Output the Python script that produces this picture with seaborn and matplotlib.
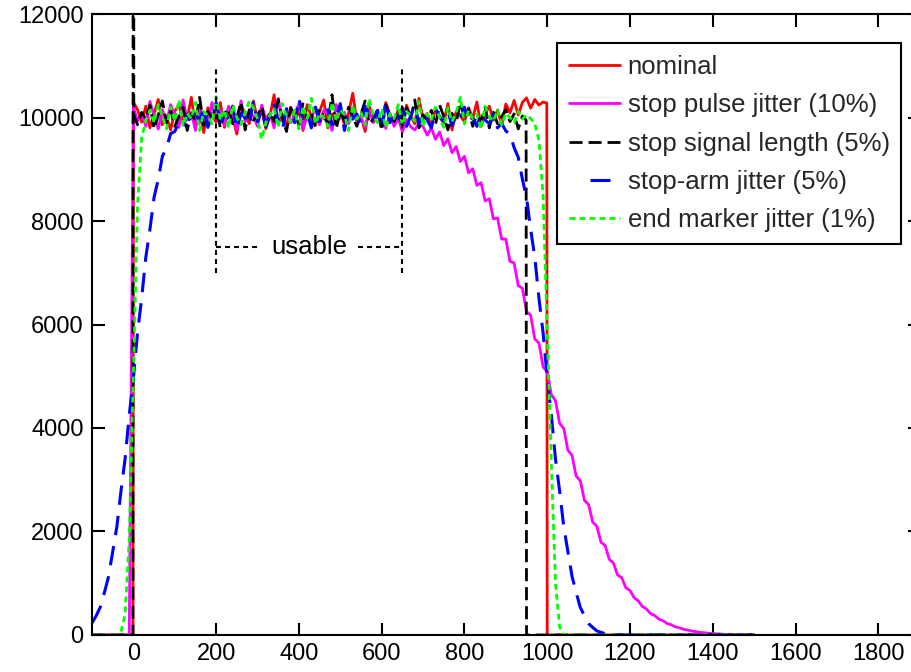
import numpy as np
import pandas as pd
import matplotlib
matplotlib.use("Agg")
import matplotlib.pyplot as plt
from matplotlib.lines import Line2D
import seaborn as sns

# Time bins (ns), 10 ns wide, shared by all runs
bins = np.arange(-100, 1501, 10)

# Nominal run: extra samples at t = -1 and t = 999 ns mark the hard edges
nominal_bins = np.insert(bins, [10, 110], [-1, 999])
nominal = [
    0, 0, 0, 0, 0, 0, 0, 0, 0, 0,
    0,
    10300, 10150, 9910, 10220, 9800, 10070, 10350, 9860, 10020, 9760,
    10120, 10250, 9900, 9980, 10390, 9830, 10100, 9710, 10190, 10030,
    9910, 10290, 9810, 10140, 10000, 9680, 10240, 10080, 9880, 10320,
    9950, 10170, 9780, 10030, 10440, 9900, 10050, 9830, 10200, 9930,
    10140, 9750, 10250, 10020, 9860, 10120, 10340, 9800, 10070, 9980,
    10190, 9850, 10080, 10470, 9930, 10030, 9730, 10220, 9970, 10100,
    9830, 10290, 10050, 9920, 10150, 9780, 10240, 10020, 9880, 10370,
    9970, 10080, 9810, 10170, 10000, 9900, 10270, 9760, 10120, 10030,
    9920, 10190, 9980, 10300, 9830, 10070, 10220, 9950, 10140, 9860,
    10260, 10090, 10330, 10050, 10290, 10380, 10180, 10350, 10240, 10300,
    10280,
    0, 0, 0, 0, 0, 0, 0, 0, 0, 0,
    0, 0, 0, 0, 0, 0, 0, 0, 0, 0,
    0, 0, 0, 0, 0, 0, 0, 0, 0, 0,
    0, 0, 0, 0, 0, 0, 0, 0, 0, 0,
    0, 0, 0, 0, 0, 0, 0, 0, 0, 0,
    0,
]

stop_pulse_jitter = [
    0, 0, 0, 0, 0, 0, 0, 0, 0, 0,
    10200, 9930, 10080, 9830, 10310, 10020, 9780, 10150, 9900, 10250,
    10050, 9810, 10340, 9950, 10100, 9750, 10190, 10000, 9880, 10290,
    9970, 10140, 9850, 10220, 10070, 9760, 10320, 9920, 10120, 10020,
    9830, 10240, 9980, 10080, 9800, 10370, 9930, 10170, 9900, 10050,
    10270, 9780, 10030, 9970, 10200, 9860, 10140, 10070, 9750, 10250,
    9980, 10100, 9880, 10190, 9930, 10000, 9810, 10120, 9900, 10030,
    9950, 9790, 10080, 9830, 9990, 9720, 9960, 9820, 9760, 9890,
    9820, 9660, 9800, 9580, 9720, 9460, 9590, 9320, 9440, 9150,
    9250, 8930, 9010, 8690, 8740, 8390, 8430, 8040, 8060, 7650,
    7650, 7220, 7190, 6750, 6700, 6250, 6180, 5720, 5640, 5180,
    5090, 4640, 4530, 4090, 3990, 3570, 3470, 3070, 2980, 2600,
    2520, 2180, 2100, 1790, 1730, 1460, 1390, 1160, 1110, 910,
    860, 720, 660, 550, 500, 410, 375, 305, 275, 220,
    196, 155, 138, 108, 95, 73, 64, 49, 43, 32,
    27, 20, 17, 12, 10, 7, 6, 4, 3, 2,
    1,
]

# Stop-signal run: extra samples at t = -1, 1 and 949 ns for the spike and the cut
signal_bins = np.insert(bins, [10, 11, 105], [-1, 1, 949])
stop_signal_length = [
    0, 0, 0, 0, 0, 0, 0, 0, 0, 0,
    0, 60000, 10050,
    9860, 10100, 9970, 10240, 9780, 10050, 10320, 9900, 10140, 9830,
    10020, 10200, 9750, 10080, 9930, 10390, 9850, 10120, 9980, 10250,
    9800, 10070, 10170, 9880, 10000, 10300, 9760, 10150, 9950, 10030,
    10220, 9830, 10100, 9920, 10350, 9980, 9730, 10190, 10050, 9860,
    10290, 9970, 10080, 9810, 10170, 10000, 9900, 10440, 9780, 10120,
    9930, 10200, 10020, 9830, 10070, 10320, 9880, 9970, 10150, 9750,
    10250, 10030, 9920, 10100, 9850, 10190, 9980, 10340, 9800, 10050,
    9950, 10140, 9860, 10240, 10020, 9760, 10080, 9900, 10290, 9980,
    10170, 9830, 10050, 9930, 10200, 9800, 10100, 9880, 10020, 10150,
    9920, 10070, 9780, 10030,
    9950,
    0, 0, 0, 0, 0, 0, 0, 0, 0, 0,
    0, 0, 0, 0, 0, 0, 0, 0, 0, 0,
    0, 0, 0, 0, 0, 0, 0, 0, 0, 0,
    0, 0, 0, 0, 0, 0, 0, 0, 0, 0,
    0, 0, 0, 0, 0, 0, 0, 0, 0, 0,
    0, 0, 0, 0, 0, 0,
]

stop_arm_jitter = [
    230, 370, 540, 820, 1130, 1610, 2090, 2780, 3410, 4250,
    4960, 5840, 6510, 7300, 7840, 8460, 8800, 9250, 9410, 9690,
    9730, 9910, 9820, 10060, 9900,
    10070, 9930, 10190, 9810, 10030, 10290, 9880, 10100, 9970, 10220,
    9780, 10080, 10000, 9850, 10320, 9920, 10140, 9830, 10050, 10240,
    9950, 9760, 10170, 10020, 9900, 10370, 9980, 10100, 9800, 10200,
    9920, 10050, 10150, 9860, 10000, 10270, 9750, 10120, 9970, 10070,
    9850, 10220, 10020, 9930, 10140, 9810, 10310, 9900, 10080, 9980,
    10190, 9830, 10030, 10250, 9880, 10100, 9950, 9800, 10170, 10020,
    9920, 10120, 9850, 10050, 9970, 10200, 9900, 10000, 9830, 10070,
    9950, 9880, 10060, 9800, 9890, 9740, 9680, 9420, 9230, 8810,
    8450, 7840, 7300, 6510, 5840, 4960, 4250, 3400, 2780, 2090,
    1610, 1130, 820, 530, 370, 220, 145, 78, 50, 24,
    14, 6, 3, 1,
    0, 0, 0, 0, 0, 0, 0, 0, 0, 0,
    0, 0, 0, 0, 0, 0, 0, 0, 0, 0,
    0, 0, 0, 0, 0, 0, 0, 0, 0, 0,
    0, 0,
]

end_marker_jitter = [
    0, 0, 0, 0, 0, 0, 0, 60, 400, 1850,
    5050, 8300, 9600, 9950,
    10140, 9900, 10250, 10020, 9780, 10200, 9930, 10340, 9830, 10080,
    9980, 10290, 9750, 10120, 10030, 9880, 10400, 9950, 10150, 9800,
    10240, 10000, 9860, 10100, 10320, 10190, 9970, 9580, 9900, 10050,
    10170, 9810, 10270, 10020, 9920, 10140, 9780, 10220, 9980, 10370,
    9880, 10080, 10000, 9830, 10290, 9930, 10150, 10050, 9750, 10240,
    9970, 10100, 9860, 10360, 10020, 9900, 10170, 9800, 10080, 9980,
    10250, 9850, 10120, 10030, 9930, 10310, 9830, 10070, 9950, 10200,
    10000, 9810, 10190, 9920, 10100, 10390, 9880, 10140, 9980, 10070,
    9780, 10220, 10020, 9930, 10150, 9860, 10080, 10000, 9900, 10120,
    9970, 10050,
    9980, 9880, 9560, 8500, 5900, 3300, 1000, 150, 10,
    0, 0, 0, 0, 0, 0, 0, 0, 0, 0,
    0, 0, 0, 0, 0, 0, 0, 0, 0, 0,
    0, 0, 0, 0, 0, 0, 0, 0, 0, 0,
    0, 0, 0, 0, 0, 0, 0, 0, 0, 0,
    0, 0, 0, 0, 0, 0,
]

labels = [
    "nominal",
    "stop pulse jitter (10%)",
    "stop signal length (5%)",
    "stop-arm jitter (5%)",
    "end marker jitter (1%)",
]

# Usable window annotation
usable_start, usable_end = 200, 650
usable_low, usable_high = 7000, 11000
usable_level = 7500
usable_gap = (307, 543)

sns.set_theme(style="ticks")
plt.rcParams["font.family"] = ["Liberation Sans", "DejaVu Sans"]
plt.rcParams["lines.scale_dashes"] = False

fig = plt.figure(figsize=(9.11, 6.72), dpi=100)
ax = fig.add_axes([0.101, 0.0551, 0.9085, 0.924])

styles = [
    dict(color="#ff0000", lw=2.0, ls="-"),
    dict(color="#ff00ff", lw=2.0, ls="-"),
    dict(color="#000000", lw=2.0, ls=(0, (9.4, 4.3))),
    dict(color="#0000ff", lw=2.2, ls=(0, (14.0, 8.0))),
    dict(color="#00ff00", lw=2.0, ls=(0, (4.3, 2.9))),
]
runs = [
    (nominal_bins, nominal),
    (bins, stop_pulse_jitter),
    (signal_bins, stop_signal_length),
    (bins, stop_arm_jitter),
    (bins, end_marker_jitter),
]

for (t, counts), st in zip(runs, styles):
    assert len(t) == len(counts)
    df = pd.DataFrame({"t": t, "counts": counts})
    sns.lineplot(data=df, x="t", y="counts", ax=ax, errorbar=None,
                 color=st["color"], linewidth=st["lw"], linestyle=st["ls"])

# usable window marks
dot = dict(color="black", lw=1.5, ls=(0, (3.6, 2.9)), zorder=5)
ax.plot([usable_start, usable_start], [usable_low, usable_high], **dot)
ax.plot([usable_end, usable_end], [usable_low, usable_high], **dot)
ax.plot([usable_start, usable_gap[0]], [usable_level, usable_level], **dot)
ax.plot([usable_gap[1], usable_end], [usable_level, usable_level], **dot)
ax.text((usable_start + usable_end) / 2, usable_level, "usable",
        ha="center", va="center", fontsize=18.5, color="black", zorder=6)

ax.set_xlim(-100, 1900)
ax.set_ylim(0, 12000)
ax.set_xticks(range(0, 1801, 200))
ax.set_yticks(range(0, 12001, 2000))
ax.set_xlabel("")
ax.set_ylabel("")
ax.tick_params(direction="in", length=9, width=1.5, top=True, right=True,
               labelsize=17, pad=6, colors="black")
for s in ax.spines.values():
    s.set_linewidth(1.5)
    s.set_color("black")

handles = []
for i, st in enumerate(styles):
    ls = st["ls"]
    if i == 3:
        ls = (21.6, (14.4, 22.3))
    handles.append(Line2D([], [], color=st["color"], lw=st["lw"], ls=ls))

leg = ax.legend(handles, labels, loc="upper left", bbox_to_anchor=(0.562, 0.953),
                borderaxespad=0, frameon=True, fancybox=False, edgecolor="black",
                framealpha=1, handlelength=2.0, handletextpad=0.3,
                labelspacing=0.56, borderpad=0.45, fontsize=18.5)
leg.get_frame().set_linewidth(1.5)

fig.savefig("out.png", dpi=100)
